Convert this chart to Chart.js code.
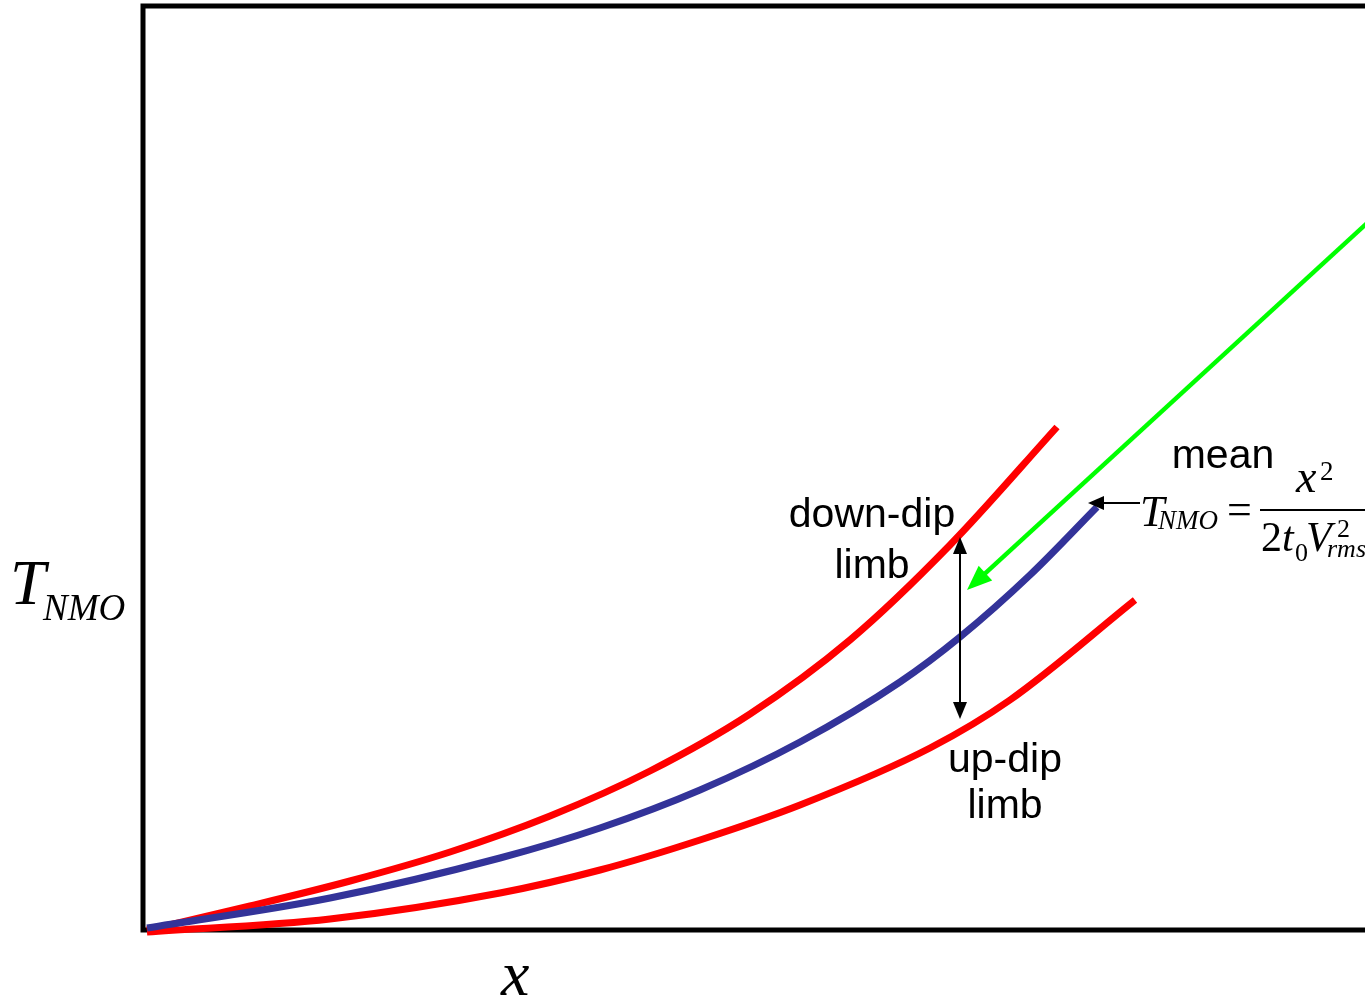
<!DOCTYPE html>
<html>
<head>
<meta charset="utf-8">
<script src="https://cdn.jsdelivr.net/npm/chart.js@4/dist/chart.umd.min.js"></script>
<style>
  html, body { margin: 0; padding: 0; background: #ffffff; }
  #wrap { width: 1365px; height: 999px; }
</style>
</head>
<body>
<div id="wrap"><canvas id="nmo" width="1365" height="999"></canvas></div>
<script>
// Offset (x) and NMO time shift for the three moveout curves
const meanOffsets     = [0.04, 1.87, 3.57, 4.57, 5.57, 6.57, 7.57, 8.17, 8.87, 9.54];
const meanTimes       = [0.02, 0.32, 0.72, 1.02, 1.40, 1.88, 2.48, 2.93, 3.55, 4.23];
const downDipOffsets  = [0.04, 1.07, 2.07, 3.07, 4.07, 5.07, 6.07, 7.07, 8.07, 9.14];
const downDipTimes    = [0.00, 0.24, 0.49, 0.78, 1.14, 1.59, 2.16, 2.90, 3.85, 5.03];
const upDipOffsets    = [0.04, 1.87, 3.57, 4.57, 5.57, 6.57, 7.87, 8.67, 9.92];
const upDipTimes      = [-0.02, 0.11, 0.37, 0.60, 0.90, 1.25, 1.82, 2.30, 3.30];

// Axis extents
const xMax = 12.22;
const yMax = 9.24;

// Annotation arrows (data units)
const greenArrow  = { from: [12.22, 7.05], to: [8.24, 3.40] };
const limbArrow   = { x: 8.17, top: 3.93, bottom: 2.11 };
const labelArrow  = { from: [9.97, 4.27], to: [9.45, 4.27] };

function pts(xs, ys) { return xs.map((x, i) => ({ x: x, y: ys[i] })); }

function arrowHead(ctx, tx, ty, fx, fy, len, half) {
  const a = Math.atan2(ty - fy, tx - fx);
  const bx = tx - len * Math.cos(a), by = ty - len * Math.sin(a);
  ctx.beginPath();
  ctx.moveTo(tx, ty);
  ctx.lineTo(bx + half * Math.sin(a), by - half * Math.cos(a));
  ctx.lineTo(bx - half * Math.sin(a), by + half * Math.cos(a));
  ctx.closePath();
  ctx.fill();
}

const framePlugin = {
  id: 'frame',
  beforeDatasetsDraw(chart) {
    const { ctx, chartArea: a } = chart;
    ctx.save();
    ctx.strokeStyle = '#000';
    ctx.lineWidth = 5;
    ctx.lineJoin = 'miter';
    ctx.beginPath();
    ctx.moveTo(a.right + 10, a.top);
    ctx.lineTo(a.left, a.top);
    ctx.lineTo(a.left, a.bottom);
    ctx.lineTo(a.right + 10, a.bottom);
    ctx.stroke();
    ctx.restore();
  }
};

const notesPlugin = {
  id: 'notes',
  afterDatasetsDraw(chart) {
    const { ctx, scales: { x, y } } = chart;
    const px = v => x.getPixelForValue(v), py = v => y.getPixelForValue(v);
    ctx.save();

    // green pointer towards the mean curve
    const gx0 = px(greenArrow.from[0]), gy0 = py(greenArrow.from[1]);
    const gx1 = px(greenArrow.to[0]),   gy1 = py(greenArrow.to[1]);
    ctx.strokeStyle = '#00ff00'; ctx.fillStyle = '#00ff00'; ctx.lineWidth = 4.5;
    const ga = Math.atan2(gy1 - gy0, gx1 - gx0);
    ctx.beginPath();
    ctx.moveTo(gx0 + 20 * Math.cos(ga + Math.PI), gy0 + 20 * Math.sin(ga + Math.PI));
    ctx.lineTo(gx1 - 18 * Math.cos(ga), gy1 - 18 * Math.sin(ga));
    ctx.stroke();
    arrowHead(ctx, gx1, gy1, gx0, gy0, 25, 10);

    // double-headed arrow between the limbs
    const lx = px(limbArrow.x), lt = py(limbArrow.top), lb = py(limbArrow.bottom);
    ctx.strokeStyle = '#000'; ctx.fillStyle = '#000'; ctx.lineWidth = 2;
    ctx.beginPath(); ctx.moveTo(lx, lt + 14); ctx.lineTo(lx, lb - 14); ctx.stroke();
    arrowHead(ctx, lx, lt, lx, lb, 17, 7);
    arrowHead(ctx, lx, lb, lx, lt, 17, 7);

    // pointer from the formula to the mean curve
    const ax0 = px(labelArrow.from[0]), ax1 = px(labelArrow.to[0]), ay = py(labelArrow.from[1]);
    ctx.beginPath(); ctx.moveTo(ax0, ay); ctx.lineTo(ax1 + 12, ay); ctx.stroke();
    arrowHead(ctx, ax1, ay, ax0, ay, 16, 7);

    // text labels
    ctx.fillStyle = '#000';
    ctx.textBaseline = 'alphabetic';
    ctx.textAlign = 'center';
    ctx.font = '41px "Liberation Sans", Arial, sans-serif';
    ctx.fillText('mean', 1223, 468);
    ctx.fillText('down-dip', 872, 527);
    ctx.fillText('limb', 872, 578);
    ctx.fillText('up-dip', 1005, 772);
    ctx.fillText('limb', 1005, 818);

    // axis symbols
    const ser = '"Liberation Serif", "Times New Roman", serif';
    ctx.textAlign = 'left';
    ctx.font = 'italic 64px ' + ser;
    ctx.fillText('T', 10, 604);
    ctx.fillText('x', 501, 995);
    ctx.font = 'italic 37px ' + ser;
    ctx.fillText('NMO', 43, 620);

    // moveout formula
    ctx.font = 'italic 44px ' + ser;
    ctx.fillText('T', 1140, 526);
    ctx.font = 'italic 27px ' + ser;
    ctx.fillText('NMO', 1158, 529);
    ctx.font = '44px ' + ser;
    ctx.fillText('=', 1227, 524);
    ctx.fillRect(1260, 509, 120, 2);
    ctx.font = 'italic 46px ' + ser;
    ctx.fillText('x', 1296, 492);
    ctx.font = '27px ' + ser;
    ctx.fillText('2', 1320, 480);
    ctx.font = '42px ' + ser;
    ctx.fillText('2', 1261, 551);
    ctx.font = 'italic 42px ' + ser;
    ctx.fillText('t', 1282, 551);
    ctx.font = '26px ' + ser;
    ctx.fillText('0', 1295, 561);
    ctx.font = 'italic 42px ' + ser;
    ctx.fillText('V', 1306, 551);
    ctx.font = '26px ' + ser;
    ctx.fillText('2', 1337, 537);
    ctx.font = 'italic 26px ' + ser;
    ctx.fillText('rms', 1327, 557);

    ctx.restore();
  }
};

const lineStyle = { showLine: true, pointRadius: 0, borderWidth: 7, fill: false,
                    cubicInterpolationMode: 'monotone', borderCapStyle: 'butt', clip: false };

new Chart(document.getElementById('nmo'), {
  type: 'scatter',
  data: {
    datasets: [
      Object.assign({ label: 'mean', data: pts(meanOffsets, meanTimes), borderColor: '#333399' }, lineStyle),
      Object.assign({ label: 'down-dip limb', data: pts(downDipOffsets, downDipTimes), borderColor: '#ff0000' }, lineStyle),
      Object.assign({ label: 'up-dip limb', data: pts(upDipOffsets, upDipTimes), borderColor: '#ff0000' }, lineStyle)
    ]
  },
  options: {
    responsive: false,
    animation: false,
    layout: { padding: { left: 143, top: 6, right: 0, bottom: 69 } },
    scales: {
      x: { type: 'linear', min: 0, max: xMax, display: false },
      y: { type: 'linear', min: 0, max: yMax, display: false }
    },
    plugins: { legend: { display: false }, tooltip: { enabled: false } }
  },
  plugins: [framePlugin, notesPlugin]
});
</script>
</body>
</html>
